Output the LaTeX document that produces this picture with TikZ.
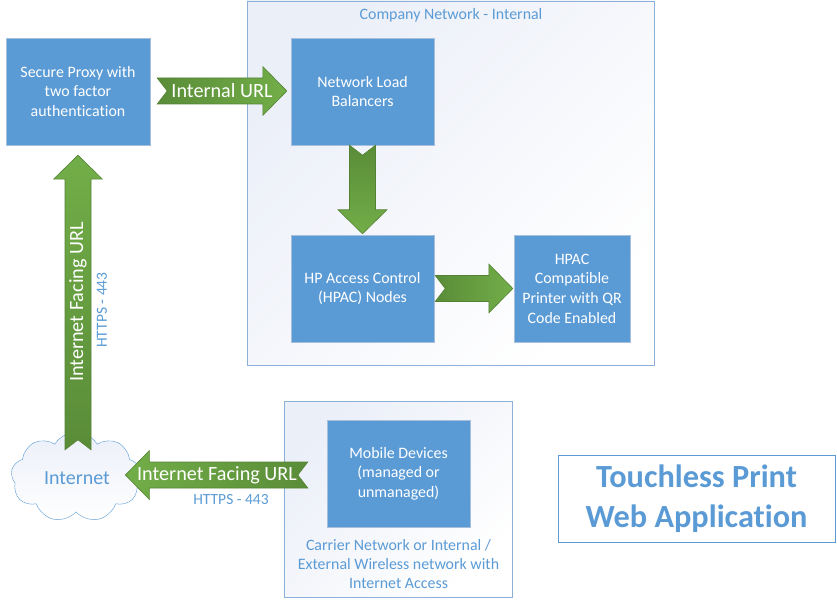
\documentclass[tikz,border=0pt]{standalone}
\usepackage{fontspec}
\setmainfont{Carlito}[Ligatures=NoCommon]
\usetikzlibrary{shapes.symbols, positioning, calc}
\definecolor{boxblue}{HTML}{5B9BD5}
\definecolor{boxedge}{HTML}{A6BFDD}
\definecolor{zoneedge}{HTML}{8CB0D8}
\definecolor{zonepale}{HTML}{EBEFF8}
\definecolor{arrowdark}{HTML}{5A8C38}
\definecolor{arrowlight}{HTML}{72AE48}
\definecolor{arrowedge}{HTML}{548235}
\tikzset{
    bluebox/.style={draw=boxedge, fill=boxblue, text=white, align=center, font=\fontsize{15.9}{19.6}\selectfont, inner sep=0pt},
    zone/.style={draw=zoneedge, top color=zonepale, bottom color=white, shading angle=45, inner sep=0pt},
    zonetext/.style={text=boxblue, align=center, font=\fontsize{15.9}{19}\selectfont},
    arrowtext/.style={text=white, font=\fontsize{20.2}{22}\selectfont, inner sep=0pt},
    smalltext/.style={text=boxblue, font=\fontsize{15.5}{16}\selectfont, inner sep=0pt},
    fatarrow/.style={draw=arrowedge, line width=0.6pt, to path={
        ($(\tikztostart)!13pt!90:(\tikztotarget)$)
        -- ($(\tikztostart)!10pt!(\tikztotarget)$)
        -- ($(\tikztostart)!13pt!-90:(\tikztotarget)$)
        -- ($($(\tikztotarget)!24pt!(\tikztostart)$)!13pt!-90:(\tikztotarget)$)
        -- ($($(\tikztotarget)!24pt!(\tikztostart)$)!24.5pt!-90:(\tikztotarget)$)
        -- (\tikztotarget)
        -- ($($(\tikztotarget)!24pt!(\tikztostart)$)!24.5pt!90:(\tikztotarget)$)
        -- ($($(\tikztotarget)!24pt!(\tikztostart)$)!13pt!90:(\tikztotarget)$)
        -- cycle}},
}
\begin{document}
\begin{tikzpicture}[x=1pt, y=-1pt]
    \useasboundingbox (0,0) rectangle (837,601);
    % zones
    \node[zone, minimum width=407pt, minimum height=364pt] (company) at (450.5,183) {};
    \node[zone, minimum width=228pt, minimum height=196pt] (carrier) at (398.5,499) {};
    \node[zonetext] (companytext) at (451,15) {Company Network - Internal};
    \node[zonetext] (carriertext) at (398.5,564) {Carrier Network or Internal /\\External Wireless network with\\Internet Access};
    % boxes
    \node[bluebox, minimum width=144pt, minimum height=107pt] (proxy) at (78,91.5) {Secure Proxy with\\two factor\\authentication};
    \node[bluebox, minimum width=143pt, minimum height=107pt] (balancer) at (362.5,91.5) {Network Load\\Balancers};
    \node[bluebox, minimum width=143pt, minimum height=107pt] (hpac) at (362.5,288.5) {HP Access Control\\(HPAC) Nodes};
    \node[bluebox, minimum width=116pt, minimum height=107pt] (printer) at (572,288.5) {HPAC\\Compatible\\Printer with QR\\Code Enabled};
    \node[bluebox, minimum width=143pt, minimum height=107pt] (mobile) at (398.5,473.5) {Mobile Devices\\(managed or\\unmanaged)};
    \node[cloud, draw=boxblue, top color=zonepale, bottom color=white, cloud puffs=9, cloud puff arc=120, aspect=1.5, minimum width=130pt, minimum height=90pt, inner sep=0pt] (internet) at (76,477) {};
    \node[text=boxblue, font=\fontsize{20}{22}\selectfont] (internettext) at (77,478) {Internet};
    % arrows
    \draw[fatarrow, left color=arrowdark, right color=arrowlight] ([xshift=7pt,yshift=0.5pt]proxy.east) to ([xshift=-4pt,yshift=0.5pt]balancer.west);
    \draw[fatarrow, top color=arrowdark, bottom color=arrowlight] (balancer.south) to ([yshift=1pt]hpac.north);
    \draw[fatarrow, left color=arrowdark, right color=arrowlight] ([xshift=1pt]hpac.east) to ([xshift=-1pt]printer.west);
    \draw[fatarrow, bottom color=arrowdark, top color=arrowlight] ([xshift=2pt,yshift=-18pt]internet.north) to ([yshift=-10pt]proxy.south);
    \draw[fatarrow, right color=arrowdark, left color=arrowlight] ([xshift=-19pt,yshift=-1.5pt]mobile.west) to ([xshift=-15pt,yshift=2pt]internet.east);
    % arrow labels
    \node[arrowtext] (internalurl) at (222,91) {Internal URL};
    \node[arrowtext, rotate=90] (facingup) at (78,302) {Internet Facing URL};
    \node[arrowtext] (facingleft) at (217,475) {Internet Facing URL};
    \node[smalltext, rotate=90] (httpsup) at (102,310) {HTTPS - 443};
    \node[smalltext] (httpsleft) at (231,500) {HTTPS - 443};
    % title
    \node[draw=boxblue, fill=white, text=boxblue, align=center, font=\fontsize{32.3}{40}\bfseries\selectfont, minimum width=277pt, minimum height=87pt, inner sep=0pt] (title) at (696.5,498.5) {Touchless Print\\Web Application};
\end{tikzpicture}
\end{document}
